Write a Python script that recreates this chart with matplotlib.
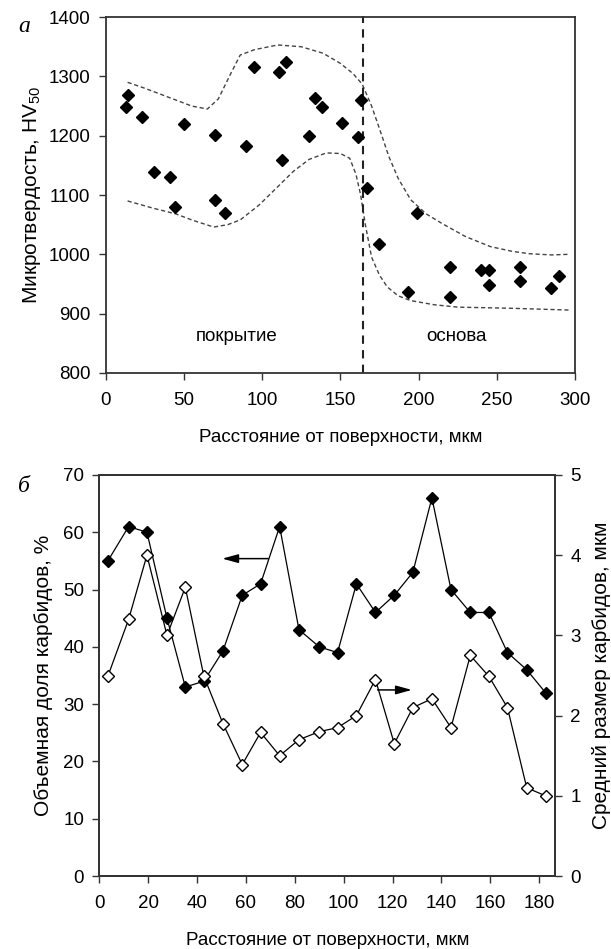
import matplotlib
matplotlib.use("Agg")
import matplotlib.pyplot as plt

plt.rcParams['font.family'] = ['Liberation Sans', 'DejaVu Sans']
plt.rcParams['mathtext.fontset'] = 'custom'
plt.rcParams['mathtext.rm'] = 'Liberation Sans'
plt.rcParams['mathtext.it'] = 'Liberation Sans:italic'

## (а) микротвердость
hv_x = [14, 13, 23, 50, 70, 90, 95, 111, 115, 113, 130, 31, 41, 44, 70, 76,
        134, 138, 151, 161, 163, 167, 199,
        175, 193, 220, 220, 240, 245, 245, 265, 265, 285, 290]
hv_y = [1269, 1249, 1231, 1220, 1202, 1183, 1316, 1307, 1324, 1159, 1200, 1139, 1130, 1079, 1092, 1069,
        1264, 1249, 1221, 1198, 1260, 1111, 1069,
        1018, 936, 979, 928, 974, 974, 949, 979, 955, 944, 964]

# огибающие (пунктир)
up_x = [14, 25, 40, 55, 65, 72, 80, 86, 95, 110, 125, 139, 150, 158, 164, 170,
        175, 181, 187, 195, 205, 215, 230, 246, 260, 271, 285, 296]
up_y = [1290, 1280, 1265, 1250, 1245, 1262, 1305, 1336, 1345, 1353, 1350, 1339, 1322, 1305, 1287, 1250,
        1212, 1165, 1128, 1092, 1068, 1052, 1030, 1013, 1005, 1001, 999, 1000]
lo_x = [14, 30, 45, 55, 69, 78, 86, 98, 110, 120, 130, 141, 150, 156, 160, 163,
        166, 170, 175, 180, 187, 195, 210, 225, 260, 297]
lo_y = [1090, 1078, 1068, 1058, 1046, 1050, 1058, 1083, 1114, 1140, 1160, 1171, 1170, 1162, 1135, 1100,
        1050, 995, 965, 945, 930, 922, 915, 911, 909, 906]
border_x = 164.4

## (б) карбиды
dist = [3.5, 12, 19.5, 27.7, 35.2, 42.8, 50.6, 58.5, 66, 73.8, 81.7, 90,
        97.5, 105.2, 113, 120.7, 128.3, 136.1, 143.9, 151.8, 159.4, 167, 174.9, 182.6]
vol_frac = [55, 61, 60, 45, 33, 34, 39.3, 49, 51, 61, 43, 40,
            39, 51, 46, 49, 53, 66, 50, 46, 46, 39, 36, 32]
carb_size = [2.49, 3.2, 4.0, 3.0, 3.6, 2.49, 1.9, 1.39, 1.79, 1.5, 1.7, 1.8,
             1.85, 2.0, 2.45, 1.65, 2.1, 2.21, 1.85, 2.75, 2.49, 2.1, 1.1, 1.0]

SPINE = '#333333'
TICKFS = 13.5
XLABFS = 13.5
YLABFS = 15
ARROW = dict(arrowstyle='-|>,head_length=0.8,head_width=0.22', color='black', lw=1.1,
             mutation_scale=12, shrinkA=0, shrinkB=0)


def style(ax):
    for s in ax.spines.values():
        s.set_color(SPINE)
        s.set_linewidth(1.3)
    ax.tick_params(direction='out', length=5, width=1.0, color=SPINE,
                   labelsize=TICKFS, pad=6)


fig = plt.figure(figsize=(6.11, 9.49), dpi=100)

# ---- верхний график
ax1 = fig.add_axes([0.173, 0.607, 0.768, 0.375])
ax1.plot(up_x, up_y, color='#444444', lw=1.0, ls=(0, (3, 2)))
ax1.plot(lo_x, lo_y, color='#444444', lw=1.0, ls=(0, (3, 2)))
ax1.plot([border_x, border_x], [800, 1402], color='#222222', lw=1.5, ls=(0, (4, 3)),
         clip_on=False)
ax1.plot(hv_x, hv_y, 'D', color='black', ms=5.7, ls='none')
ax1.set_xlim(0, 300)
ax1.set_ylim(800, 1400)
ax1.set_xticks(range(0, 301, 50))
ax1.set_yticks(range(800, 1401, 100))
ax1.text(84, 861, 'покрытие', ha='center', va='center', fontsize=XLABFS)
ax1.text(224, 861, 'основа', ha='center', va='center', fontsize=XLABFS)
ax1.set_xlabel('Расстояние от поверхности, мкм', fontsize=XLABFS, labelpad=14)
ax1.set_ylabel('Микротвердость, HV$_{50}$', fontsize=YLABFS, labelpad=4)
style(ax1)
ax1.tick_params(axis='x', pad=9)
fig.text(18 / 611, 1 - 27 / 949, 'а', family='Liberation Serif', style='italic',
         fontsize=17, ha='left', va='center')

# ---- нижний график
ax2 = fig.add_axes([0.1625, 0.0769, 0.746, 0.4226])
ax2.plot(dist, vol_frac, '-D', color='black', lw=0.9, ms=6, mec='black', mfc='black')
ax2.set_xlim(0, 186.5)
ax2.set_ylim(0, 70)
ax2.set_xticks(range(0, 181, 20))
ax2.set_yticks(range(0, 71, 10))
ax2.set_xlabel('Расстояние от поверхности, мкм', fontsize=XLABFS, labelpad=14)
ax2.set_ylabel('Объемная доля карбидов, %', fontsize=YLABFS, labelpad=7)
style(ax2)
ax2.tick_params(axis='x', pad=9)
ax2.annotate('', xy=(50.3, 55.4), xytext=(69.1, 55.4), arrowprops=ARROW)

ax3 = ax2.twinx()
ax3.plot(dist, carb_size, '-D', color='black', lw=0.9, ms=6, mec='black', mfc='white',
         mew=1.0)
ax3.set_ylim(0, 5)
ax3.set_yticks(range(0, 6))
ax3.set_ylabel('Средний размер карбидов, мкм', fontsize=YLABFS, labelpad=8)
style(ax3)
ax3.annotate('', xy=(127.9, 2.32), xytext=(113.9, 2.32), arrowprops=ARROW)
fig.text(18 / 611, 1 - 487 / 949, 'б', family='Liberation Serif', style='italic',
         fontsize=17, ha='left', va='center')

fig.savefig('out.png', dpi=100)
